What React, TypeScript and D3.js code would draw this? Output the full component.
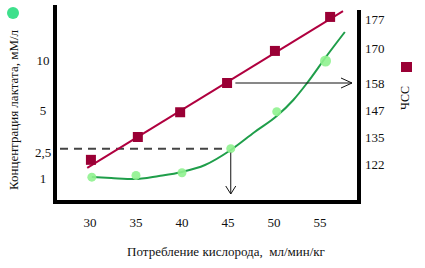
import React from "react";
import * as d3 from "d3";

// ---- data ----
const xTicks = [30, 35, 40, 45, 50, 55];
const lactateTicks = [1, 2.5, 5, 10];
const lactateTickLabels = ["1", "2,5", "5", "10"];
const hrTicks = [122, 135, 147, 158, 170, 177];

const hrX = [30.1, 35.2, 39.8, 44.9, 50.1, 56.1];
const hrValues = [124, 135, 146, 158, 169, 177.5];
const hrTrendX = [29.7, 57.5];
const hrTrendY = [120.1, 178.9];

const lactX = [30.2, 35, 40, 45.3, 50.3, 55.6];
const lactValues = [1.05, 1.15, 1.3, 2.7, 4.9, 9.9];
const lactCurveX = [30.2, 32.3, 34.8, 37.5, 40, 42.5, 45.3, 47.9, 50.3, 52.1, 53.6, 55.8, 57.7];
const lactCurveY = [1.06, 1.0, 0.94, 1.12, 1.35, 1.75, 2.62, 3.69, 4.64, 6.0, 7.7, 10.5, 12.8];

const thresholdX = 45.3;
const thresholdLact = 2.7;
const thresholdHR = 158;

const W = 425;
const H = 268;
const FONT = "'Liberation Serif', 'DejaVu Serif', serif";

export default function App() {
  const x = d3.scaleLinear().domain([30, 55]).range([90, 320]);
  const yL = d3.scaleLinear().domain([1, 2.5, 5, 10]).range([178, 152, 110, 60]);
  const yR = d3
    .scaleLinear()
    .domain([122, 135, 147, 158, 170, 177])
    .range([164, 137, 110, 83, 48, 19]);

  const axisLeftX = 55;
  const axisRightX = 359;
  const axisBottomY = 202;

  const greenLine = d3
    .line<number>()
    .x((_, i) => x(lactCurveX[i]))
    .y((d) => yL(d))
    .curve(d3.curveMonotoneX);

  const redLine = d3
    .line<number>()
    .x((_, i) => x(hrTrendX[i]))
    .y((d) => yR(d));

  const ty = yL(thresholdLact);
  const tx = x(thresholdX);
  const hy = yR(thresholdHR);
  const vArrowEnd = axisBottomY - 8;
  const hArrowEnd = axisRightX - 7;

  return (
    <svg
      width={W}
      height={H}
      style={{ position: "absolute", left: 0, top: 0, background: "#fff" }}
      fontFamily={FONT}
    >
      {/* legend markers */}
      <circle cx={13} cy={13} r={6} fill="#3ee08c" />
      <rect x={401} y={62} width={11} height={10} fill="#9a0035" />

      {/* axis titles */}
      <text
        transform={`translate(18,110) rotate(-90)`}
        textAnchor="middle"
        fontSize={13}
        fill="#111"
      >
        Концентрация лактата, мМ/л
      </text>
      <text
        transform={`translate(409,98) rotate(-90)`}
        textAnchor="middle"
        fontSize={12}
        fill="#111"
      >
        ЧСС
      </text>
      <text
        x={226}
        y={256}
        textAnchor="middle"
        fontSize={13}
        fill="#111"
        style={{ whiteSpace: "pre" }}
      >
        {"Потребление кислорода,  мл/мин/кг"}
      </text>

      {/* tick labels */}
      {xTicks.map((t) => (
        <text key={t} x={x(t)} y={227} textAnchor="middle" fontSize={13} fill="#111">
          {t}
        </text>
      ))}
      {lactateTicks.map((t, i) => (
        <text
          key={t}
          x={43}
          y={yL(t)}
          dy="0.35em"
          textAnchor="middle"
          fontSize={13}
          fill="#111"
        >
          {lactateTickLabels[i]}
        </text>
      ))}
      {hrTicks.map((t) => (
        <text key={t} x={365} y={yR(t)} dy="0.35em" fontSize={13} fill="#111">
          {t}
        </text>
      ))}

      {/* dashed threshold line */}
      <line
        x1={60}
        x2={tx - 4}
        y1={ty}
        y2={ty}
        stroke="#444"
        strokeWidth={2}
        strokeDasharray="8,6"
      />

      {/* red HR trend */}
      <path d={redLine(hrTrendY) || ""} fill="none" stroke="#b0003f" strokeWidth={2} />
      {hrValues.map((v, i) => (
        <rect
          key={i}
          x={x(hrX[i]) - 5}
          y={yR(v) - 5}
          width={10}
          height={10}
          fill="#9a0035"
        />
      ))}

      {/* green lactate curve */}
      <path d={greenLine(lactCurveY) || ""} fill="none" stroke="#1f9e4a" strokeWidth={2} />
      {lactValues.map((v, i) => (
        <circle
          key={i}
          cx={x(lactX[i])}
          cy={yL(v)}
          r={i === lactValues.length - 1 ? 5.5 : 4.5}
          fill="#8ff28f"
          opacity={0.9}
        />
      ))}

      {/* arrows */}
      <line x1={tx} x2={tx} y1={ty + 4} y2={vArrowEnd} stroke="#111" strokeWidth={1} />
      <polyline
        points={`${tx - 5},${vArrowEnd - 8} ${tx},${vArrowEnd} ${tx + 5},${vArrowEnd - 8}`}
        fill="none"
        stroke="#111"
        strokeWidth={1}
      />
      <line x1={x(45.8)} x2={hArrowEnd} y1={hy} y2={hy} stroke="#111" strokeWidth={1} />
      <polyline
        points={`${hArrowEnd - 11},${hy - 5} ${hArrowEnd},${hy} ${hArrowEnd - 11},${hy + 5}`}
        fill="none"
        stroke="#111"
        strokeWidth={1}
      />

      {/* axes */}
      <line x1={axisLeftX} x2={axisLeftX} y1={5} y2={axisBottomY + 2} stroke="#000" strokeWidth={4} />
      <line x1={axisLeftX} x2={axisRightX + 2} y1={axisBottomY} y2={axisBottomY} stroke="#000" strokeWidth={4} />
      <line x1={axisRightX} x2={axisRightX} y1={10} y2={axisBottomY + 2} stroke="#000" strokeWidth={4} />
    </svg>
  );
}
